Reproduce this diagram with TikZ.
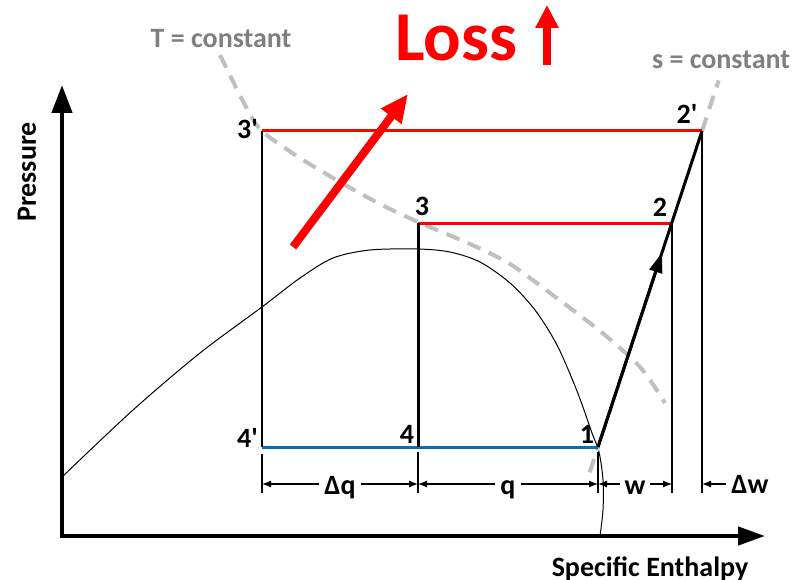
\documentclass[tikz,border=0pt]{standalone}
\usepackage{fontspec}
\setmainfont{Carlito}[Ligatures=TeXOff]
\usetikzlibrary{arrows.meta, calc}
\definecolor{CycleRed}{HTML}{FF0000}
\definecolor{LowBlue}{HTML}{0070C0}
\definecolor{DashGray}{HTML}{BFBFBF}
\definecolor{TextGray}{HTML}{7F7F7F}
\tikzset{
  axis/.style={line width=4.5pt, {Triangle[length=28pt, width=20pt]}-{Triangle[length=27pt, width=18pt]}},
  highline/.style={draw=CycleRed, line width=3pt},
  lowline/.style={draw=LowBlue, line width=3pt},
  valve/.style={draw=black, line width=2.2pt},
  compress/.style={draw=black, line width=3pt},
  guide/.style={draw=black, line width=1.2pt},
  dome/.style={draw=black, line width=1pt},
  dimarrow/.style={guide, {Latex[length=9pt, width=7pt]}-{Latex[length=9pt, width=7pt]}},
  isoline/.style={draw=DashGray, line width=4pt, dash pattern=on 14pt off 9pt},
  lossarrow/.style={draw=CycleRed, line width=8pt},
  ptlabel/.style={font=\bfseries\fontsize{28}{30}\selectfont, inner sep=0pt},
  dimlabel/.style={font=\bfseries\fontsize{28}{30}\selectfont, fill=white, inner xsep=5pt, inner ysep=1pt},
  isolabel/.style={font=\bfseries\fontsize{28}{30}\selectfont, text=TextGray, inner sep=0pt}
}

\begin{document}
\begin{tikzpicture}[x=1pt,y=-1pt]
\useasboundingbox (0,0) rectangle (800,580);

% cycle points
\coordinate (p1) at (598,447);
\coordinate (p2) at (672,223);
\coordinate (p2p) at (702,131);
\coordinate (p3) at (418,223);
\coordinate (p3p) at (262,131);
\coordinate (p4) at (418,447);
\coordinate (p4p) at (262,447);
\coordinate (dimy) at (0,484);
\coordinate (tickbot) at (0,493);

% axes
\coordinate (ytop) at (62,85);
\coordinate (origin) at (62,536);
\coordinate (xend) at (765,536);
\draw[axis] (ytop) -- (origin) -- (xend);
\node[ptlabel, rotate=90] (pressure) at (27,172) {Pressure};
\node[ptlabel, anchor=base] (enthalpy) at (650,576) {Specific Enthalpy};

% saturation dome
\draw[dome] plot[smooth, tension=0.5] coordinates {(62,477) (133,410) (200,353) (262,307) (300,278) (333,258) (370,250) (418,249) (450,252) (480,262) (510,283) (535,310) (557,345) (577,391) (592,433) (599,452) (603,480) (603,510) (600,536)};

% isotherm and isentrope
\draw[isoline] plot[smooth, tension=0.5] coordinates {(220,55) (245,105) (262,131) (300,158) (340,182) (380,204) (418,222) (470,244) (510,264) (550,293) (600,331) (640,367) (665,403)};
\draw[isoline] ($(p1)!-0.08!(p2p)$) -- (p1);
\draw[isoline] (p2p) -- ($(p2p)!-0.16!(p1)$);
\node[isolabel, anchor=base] (tconst) at (221,48) {T = constant};
\node[isolabel, anchor=base] (sconst) at (721,69) {s = constant};

% guides for the dimensions
\draw[guide] (p4p |- 0,454) -- (p4p |- tickbot);
\draw[guide] (p4 |- 0,452) -- (p4 |- tickbot);
\draw[guide] (p1 |- 0,452) -- (p1 |- tickbot);
\draw[guide] (p2) -- (p2 |- tickbot);
\draw[guide] (p2p) -- (p2p |- tickbot);

% cycle
\draw[highline] (p3p) -- (p2p);
\draw[highline] (p3) -- (p2);
\draw[lowline] (p4p) -- (p1);
\draw[valve] (p3p) -- (p4p);
\draw[compress] (p3) -- (p4);
\draw[compress] (p1) -- (p2p);
\draw[compress, -{Triangle[length=20pt, width=13pt]}] (p1) -- ($(p1)!0.615!(p2p)$);

\node[ptlabel, anchor=base east] (l3p) at (258,139) {3'};
\node[ptlabel, anchor=base] (l3) at (422,215) {3};
\node[ptlabel, anchor=base east] (l4p) at (258,447) {4'};
\node[ptlabel, anchor=base] (l4) at (407,443) {4};
\node[ptlabel, anchor=base] (l1) at (587,443) {1};
\node[ptlabel, anchor=base] (l2) at (660,216) {2};
\node[ptlabel, anchor=base] (l2p) at (687,124) {2'};

% dimensions
\draw[dimarrow] (p4p |- dimy) -- (p4 |- dimy) node[dimlabel, midway, anchor=base, yshift=-10pt] (dq) {Δq};
\draw[dimarrow] (p4 |- dimy) -- (p1 |- dimy) node[dimlabel, midway, anchor=base, yshift=-10pt] (q) {q};
\draw[dimarrow] (p1 |- dimy) -- (p2 |- dimy) node[dimlabel, midway, anchor=base, yshift=-10pt] (w) {w};
\node[ptlabel, anchor=base] (dw) at (750,493) {Δw};
\draw[guide, -{Latex[length=9pt, width=7pt]}] (dw.west |- dimy) ++(-5,0) -- (p2p |- dimy);

% loss
\node[font=\bfseries\fontsize{70}{72}\selectfont, text=CycleRed, anchor=base, inner sep=0pt] (loss) at (456,61) {Loss};
\coordinate (upbot) at (547,65);
\coordinate (uptop) at (547,5);
\draw[lossarrow, -{Triangle[length=23pt, width=22pt]}] (upbot) -- (uptop);
\coordinate (shiftbot) at (293,247);
\coordinate (shifttop) at (408,94);
\draw[lossarrow, -{Triangle[length=28pt, width=24pt]}] (shiftbot) -- (shifttop);
\end{tikzpicture}
\end{document}
